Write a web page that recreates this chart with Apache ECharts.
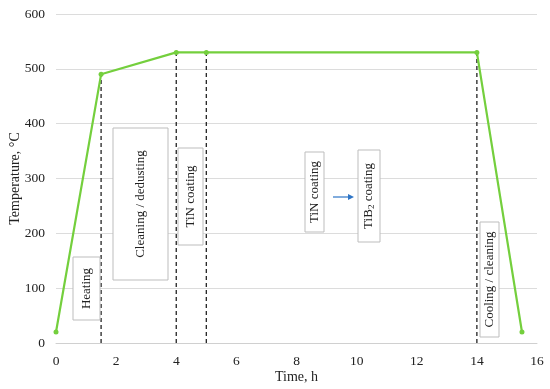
<!DOCTYPE html>
<html>
<head>
<meta charset="utf-8">
<script src="https://cdn.jsdelivr.net/npm/echarts@6/dist/echarts.min.js"></script>
<style>
  html, body { margin: 0; padding: 0; background: #fff; }
  #main { width: 550px; height: 389px; }
</style>
</head>
<body>
<div id="main"></div>
<script>
// process profile
const times = [0, 1.5, 4, 5, 14, 15.5];
const temps = [20, 490, 530, 530, 530, 20];
// stage borders (dashed)
const stageTimes = [1.5, 4, 5, 14];
const stageTemps = [490, 530, 530, 530];
const xTicks = [0, 2, 4, 6, 8, 10, 12, 14, 16];
const yTicks = [0, 100, 200, 300, 400, 500, 600];

const font = '"Liberation Serif", "DejaVu Serif", serif';
const green = '#74cf3d';

const dashedSeries = stageTimes.map((t, i) => ({
  type: 'line',
  data: [[t, 0], [t, stageTemps[i]]],
  symbol: 'none',
  lineStyle: { color: '#222', width: 1.3, type: [4, 3] },
  z: 1,
  silent: true
}));

const chart = echarts.init(document.getElementById('main'));
chart.setOption({
  animation: false,
  grid: { left: 56, right: 13, top: 14, bottom: 46, outerBoundsMode: 'none' },
  xAxis: {
    type: 'value', min: 0, max: 16, interval: 2,
    name: 'Time, h', nameLocation: 'middle', nameGap: 27, nameMoveOverlap: false,
    nameTextStyle: { fontFamily: font, fontSize: 14, color: '#222' },
    axisLine: { lineStyle: { color: '#d0d0d0' } },
    axisTick: { show: false },
    splitLine: { show: false },
    axisLabel: { fontFamily: font, fontSize: 13.5, color: '#222', margin: 11 }
  },
  yAxis: {
    type: 'value', min: 0, max: 600, interval: 100,
    name: 'Temperature, °C', nameLocation: 'middle', nameGap: 34, nameMoveOverlap: false,
    nameTextStyle: { fontFamily: font, fontSize: 14, color: '#222' },
    axisLine: { show: false },
    axisTick: { show: false },
    splitLine: { lineStyle: { color: '#dcdcdc' } },
    axisLabel: { fontFamily: font, fontSize: 13.5, color: '#222', margin: 11 }
  },
  series: dashedSeries.concat([{
    type: 'line',
    data: times.map((t, i) => [t, temps[i]]),
    symbol: 'circle', symbolSize: 5,
    itemStyle: { color: green },
    lineStyle: { color: green, width: 2.2 },
    z: 3
  }])
});

// stage annotation boxes (pixel layout)
const boxes = [
  { x: 73, y: 257, w: 27, h: 63, text: 'Heating' },
  { x: 113, y: 128, w: 55, h: 152, text: 'Cleaning / dedusting' },
  { x: 178, y: 148, w: 25, h: 97, text: 'TiN coating' },
  { x: 305, y: 152, w: 19, h: 80, text: 'TiN coating' },
  { x: 358, y: 150, w: 22, h: 92, text: 'TiB{s|2} coating' },
  { x: 480, y: 222, w: 19, h: 115, text: 'Cooling / cleaning' }
];
const graphic = [];
boxes.forEach(b => {
  graphic.push({
    type: 'rect', shape: { x: b.x, y: b.y, width: b.w, height: b.h },
    style: { fill: '#fff', stroke: '#bdbdbd', lineWidth: 1 }, z: 10
  });
  graphic.push({
    type: 'text', x: b.x + b.w / 2, y: b.y + b.h / 2, rotation: Math.PI / 2,
    style: {
      text: b.text, fontFamily: font, fontSize: 13, fill: '#222',
      align: 'center', verticalAlign: 'middle',
      rich: { s: { fontFamily: font, fontSize: 9, fill: '#222', verticalAlign: 'bottom', padding: [6, 0, 0, 0] } }
    },
    z: 11
  });
});
graphic.push({
  type: 'line', shape: { x1: 333, y1: 197, x2: 349, y2: 197 },
  style: { stroke: '#2e75c6', lineWidth: 1.2 }, z: 11
});
graphic.push({
  type: 'polygon', shape: { points: [[348, 194], [354, 197], [348, 200]] },
  style: { fill: '#2e75c6' }, z: 11
});
chart.setOption({ graphic: graphic });
</script>
</body>
</html>
